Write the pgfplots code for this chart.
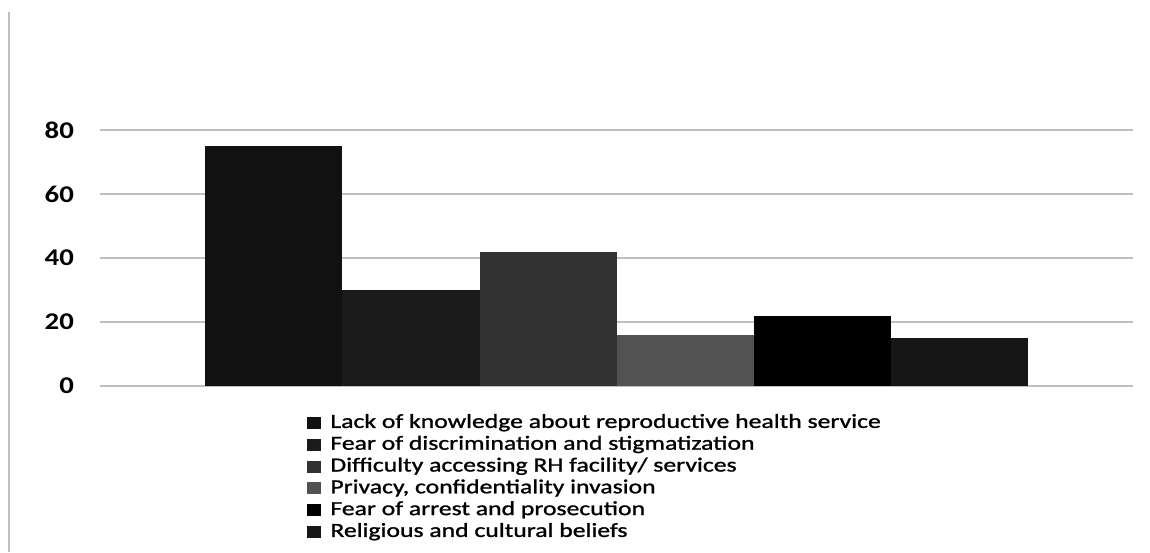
\documentclass[border=0pt]{standalone}
\usepackage{fontspec}
\setmainfont{Carlito}[FakeStretch=1.2]
\newfontfamily\legendfont{Carlito}[FakeStretch=1.285, FakeBold=1.2]
\usepackage{pgfplots}
\pgfplotsset{compat=1.18}

\definecolor{barA}{HTML}{111111}
\definecolor{barB}{HTML}{1B1B1B}
\definecolor{barC}{HTML}{323232}
\definecolor{barD}{HTML}{525252}
\definecolor{barE}{HTML}{000000}
\definecolor{barF}{HTML}{161616}
\definecolor{gridgray}{HTML}{BFBFBF}

\begin{document}
\begin{tikzpicture}
\begin{axis}[
  at={(0pt,0pt)}, anchor=south west,
  scale only axis,
  width=516.5pt, height=128pt,
  xmin=-1, xmax=1,
  ymin=0, ymax=80,
  ytick={0,20,40,60,80},
  xtick=\empty,
  ymajorgrids,
  grid style={draw=gridgray, line width=1pt},
  axis line style={draw=none},
  major tick length=0pt,
  /pgf/number format/assume math mode=true,
  yticklabel style={font=\bfseries\fontsize{12}{12}\selectfont, xshift=-9.5pt},
  ybar=0pt,
  bar width=68.5pt,
  legend cell align=left,
  legend image code/.code={\fill[#1] (0pt,-3pt) rectangle (7pt,3pt);},
  legend style={
    at={(0.2004,-0.1074)}, anchor=north west,
    draw=none, fill=none, inner sep=0pt,
    font=\legendfont\fontsize{10}{10}\selectfont,
    row sep=1.9pt, column sep=4.5pt,
    nodes={inner sep=0pt, text height=7pt, text depth=2pt},
  },
]
\addplot[fill=barA, draw=none] coordinates {(0,75)};
\addplot[fill=barB, draw=none] coordinates {(0,30)};
\addplot[fill=barC, draw=none] coordinates {(0,42)};
\addplot[fill=barD, draw=none] coordinates {(0,16)};
\addplot[fill=barE, draw=none] coordinates {(0,22)};
\addplot[fill=barF, draw=none] coordinates {(0,15)};
\legend{Lack of knowledge about reproductive health service,
        Fear of discrimination and stigmatization,
        Difficulty accessing RH facility/ services,
        {Privacy, confidentiality invasion},
        Fear of arrest and prosecution,
        Religious and cultural beliefs}
\end{axis}
% frame edge on the left
\draw[gridgray, line width=1pt] (-45.5pt,187pt) -- (-45.5pt,-83pt);
\pgfresetboundingbox
\path[use as bounding box] (-50pt,-83pt) rectangle (525pt,193pt);
\end{tikzpicture}
\end{document}
